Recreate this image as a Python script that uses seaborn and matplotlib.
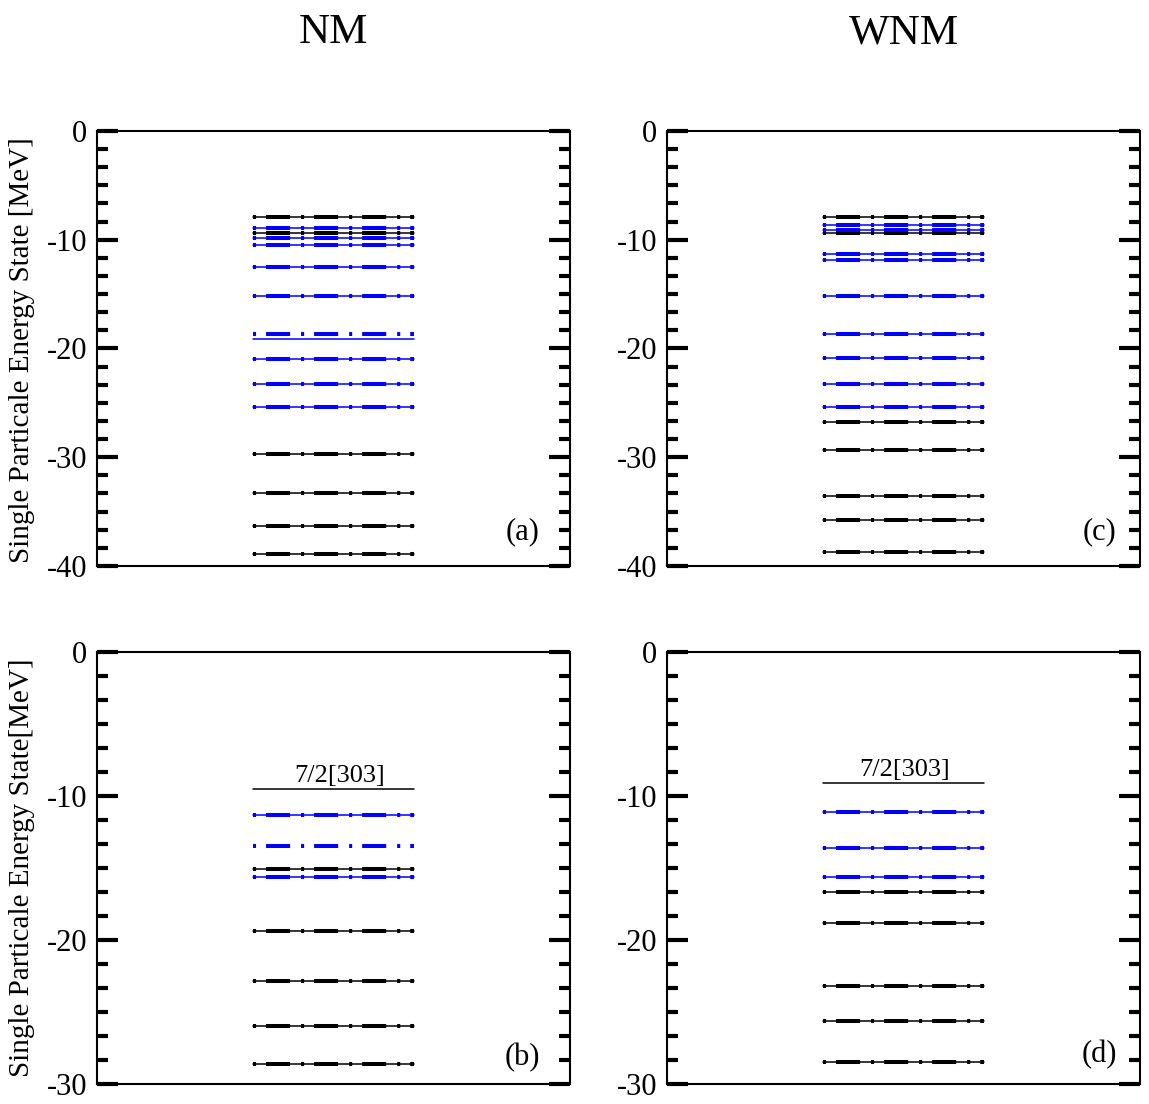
import numpy as np
import pandas as pd
import matplotlib
matplotlib.use("Agg")
import matplotlib.pyplot as plt
from matplotlib.ticker import MultipleLocator
import seaborn as sns

sns.set_style("ticks")
plt.rcParams["font.family"] = ["Liberation Serif", "DejaVu Serif"]
plt.rcParams["axes.unicode_minus"] = False
plt.rcParams["lines.scale_dashes"] = False
for k in ["text.color", "axes.edgecolor", "axes.labelcolor", "xtick.color", "ytick.color"]:
    plt.rcParams[k] = "black"

# ---- single-particle levels (MeV) ----
# "both": drawn as thin solid + thick dash-dot; "solid"/"dashdot": only one of them
# panel (a)  NM
a_black_both = [-7.9, -9.4, -29.7, -33.3, -36.3, -38.9]
a_blue_both = [-8.9, -9.8, -10.5, -12.5, -15.2, -21.0, -23.3, -25.4]
a_blue_solid = [-19.15]
a_blue_dashdot = [-18.7]

# panel (c)  WNM
c_black_both = [-7.9, -9.4, -26.8, -29.3, -33.6, -35.8, -38.7]
c_blue_both = [-8.6, -9.1, -11.3, -11.9, -15.2, -18.7, -20.9, -23.3, -25.4]

# panel (b)  NM
b_black_both = [-15.1, -19.35, -22.85, -25.97, -28.6]
b_black_solid = [-9.5]
b_blue_both = [-11.3, -15.6]
b_blue_dashdot = [-13.5]

# panel (d)  WNM
d_black_both = [-16.7, -18.84, -23.2, -25.63, -28.45]
d_black_solid = [-9.07]
d_blue_both = [-11.13, -13.63, -15.6]

label_state = "7/2[303]"
col_titles = ["NM", "WNM"]
ylabels = ["Single Particale Energy State [MeV]", "Single Particale Energy State[MeV]"]

X0, X1 = 0.33, 0.67
palette = {"black": "black", "blue": "blue"}


def build(black_both=(), blue_both=(), black_solid=(), blue_solid=(),
          black_dd=(), blue_dd=()):
    rows = []
    lid = 0
    groups = [
        (black_both, "black", ["solid", "dashdot"]),
        (blue_both, "blue", ["solid", "dashdot"]),
        (black_solid, "black", ["solid"]),
        (blue_solid, "blue", ["solid"]),
        (black_dd, "black", ["dashdot"]),
        (blue_dd, "blue", ["dashdot"]),
    ]
    for vals, col, styles in groups:
        for e in vals:
            for st in styles:
                lid += 1
                rows.append(dict(x=X0, E=e, col=col, kind=st, lid=lid))
                rows.append(dict(x=X1, E=e, col=col, kind=st, lid=lid))
    return pd.DataFrame(rows)


panels = {
    "a": build(a_black_both, a_blue_both, blue_solid=a_blue_solid, blue_dd=a_blue_dashdot),
    "c": build(c_black_both, c_blue_both),
    "b": build(b_black_both, b_blue_both, black_solid=b_black_solid, blue_dd=b_blue_dashdot),
    "d": build(d_black_both, d_blue_both, black_solid=d_black_solid),
}

W, H = 1149, 1104
fig = plt.figure(figsize=(W / 100, H / 100), dpi=100)


def frac_rect(l, t, r, b):
    return [l / W, 1 - b / H, (r - l) / W, (b - t) / H]


rects = {
    "a": frac_rect(97, 131, 570, 566),
    "c": frac_rect(667, 131, 1140, 566),
    "b": frac_rect(97, 652, 570, 1084),
    "d": frac_rect(667, 652, 1140, 1084),
}
ylims = {"a": (-40, 0), "c": (-40, 0), "b": (-30, 0), "d": (-30, 0)}
tags = {"a": ("(a)", 0.899, 0.078), "c": ("(c)", 0.915, 0.078),
        "b": ("(b)", 0.899, 0.062), "d": ("(d)", 0.915, 0.067)}
state_lines = {"b": (b_black_solid[0], 0.514), "d": (d_black_solid[0], 0.503)}

dashdot = (25.2, (17.3, 7.9, 2.2, 7.2))

for key in ["a", "c", "b", "d"]:
    ax = fig.add_axes(rects[key])
    df = panels[key]
    sol = df[df["kind"] == "solid"]
    dd = df[df["kind"] == "dashdot"]
    if len(sol):
        sns.lineplot(data=sol, x="x", y="E", hue="col", units="lid", estimator=None,
                     palette=palette, lw=1.1, legend=False, ax=ax)
    if len(dd):
        sns.lineplot(data=dd, x="x", y="E", hue="col", units="lid", estimator=None,
                     palette=palette, lw=2.9, linestyle=dashdot, legend=False, ax=ax)
    ax.set_xlim(0, 1)
    ax.set_ylim(*ylims[key])
    ax.set_xticks([])
    ax.set_xlabel("")
    ax.set_ylabel("")
    ax.yaxis.set_major_locator(MultipleLocator(10))
    ax.yaxis.set_minor_locator(MultipleLocator(10 / 6))
    ax.tick_params(axis="y", which="both", direction="in", left=True, right=True,
                   width=3, labelsize=22, pad=7)
    ax.tick_params(axis="y", which="major", length=15)
    ax.tick_params(axis="y", which="minor", length=8)
    for sp in ax.spines.values():
        sp.set_visible(True)
        sp.set_linewidth(1.5)
    t, tx, ty = tags[key]
    ax.text(tx, ty, t, transform=ax.transAxes, ha="center", va="center", fontsize=22)
    if key in state_lines:
        e, xc = state_lines[key]
        ax.annotate(label_state, xy=(xc, e), xytext=(0, 1), textcoords="offset points",
                    ha="center", va="bottom", fontsize=19)

fig.text(333.5 / W, 1 - 33 / H, col_titles[0], ha="center", va="center", fontsize=31)
fig.text(903.5 / W, 1 - 33 / H, col_titles[1], ha="center", va="center", fontsize=31)
fig.text(22 / W, 1 - 350 / H, ylabels[0], rotation=90, ha="center", va="center", fontsize=21)
fig.text(22 / W, 1 - 868 / H, ylabels[1], rotation=90, ha="center", va="center", fontsize=21)

fig.savefig("out.png", dpi=100)
